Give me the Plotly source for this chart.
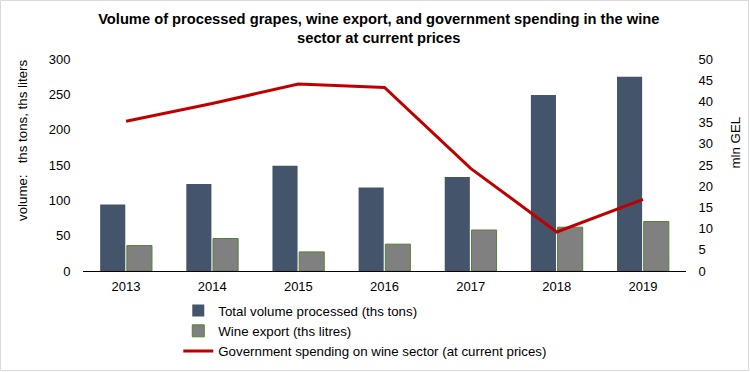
import plotly.graph_objects as go

years = ["2013", "2014", "2015", "2016", "2017", "2018", "2019"]
total_processed = [94, 123, 149, 118, 133, 249, 275]
wine_export = [36, 46, 27, 38, 58, 62, 70]
gov_spending = [35.3, 39.5, 44.1, 43.3, 24.2, 9.2, 16.9]

title_text = ("Volume of processed grapes, wine export, and government spending in the wine"
              "<br>sector at current prices")
left_axis_title = "volume:   ths tons, ths liters"
right_axis_title = "mln GEL"

W, H = 750, 372
ml, mr, mt, mb = 83, 64, 59, 101

fig = go.Figure()
fig.add_trace(go.Bar(x=years, y=total_processed, name="Total volume processed (ths tons)",
                     marker=dict(color="#44546A", line=dict(width=0))))
fig.add_trace(go.Bar(x=years, y=wine_export, name="Wine export (ths litres)",
                     marker=dict(color="#808080", line=dict(color="#548235", width=1))))
fig.add_trace(go.Scatter(x=years, y=gov_spending, name="Government spending on wine sector (at current prices)",
                         yaxis="y2", mode="lines", line=dict(color="#C00000", width=3)))

pw = W - ml - mr
ph = H - mt - mb
fig.add_shape(type="rect", xref="paper", yref="paper",
              x0=-ml / pw + 0.5 / pw, x1=1 + (mr - 1.5) / pw,
              y0=-mb / ph + 1.5 / ph, y1=1 + (mt - 0.5) / ph,
              line=dict(color="#D9D9D9", width=1), layer="below")

fig.add_annotation(text=left_axis_title, xref="paper", yref="paper",
                   x=(22 - ml) / pw, y=1 - (141 - mt) / ph, textangle=-90,
                   showarrow=False, font=dict(size=13.3), xanchor="center", yanchor="middle")
fig.add_annotation(text=right_axis_title, xref="paper", yref="paper",
                   x=(735 - ml) / pw, y=1 - (142.5 - mt) / ph, textangle=-90,
                   showarrow=False, font=dict(size=13.3), xanchor="center", yanchor="middle")

hidden_tick = "rgba(0,0,0,0)"
fig.update_layout(
    width=W, height=H,
    margin=dict(l=ml, r=mr, t=mt, b=mb, autoexpand=False),
    paper_bgcolor="white", plot_bgcolor="white",
    font=dict(family="Liberation Sans, Arial, sans-serif", size=13, color="#000000"),
    title=dict(text="<b>" + title_text + "</b>", x=0.505, xanchor="center", y=0.936, yanchor="top",
               font=dict(size=14.7, color="#000000")),
    barmode="group", bargap=0.38, bargroupgap=0.06,
    showlegend=True,
    legend=dict(orientation="v", x=0.158, xanchor="left", y=-0.115, yanchor="top",
                font=dict(size=13.3), tracegroupgap=0, itemwidth=30, bgcolor="rgba(0,0,0,0)"),
    xaxis=dict(showgrid=False, showline=True, linecolor="#000000", linewidth=1,
               ticks="outside", ticklen=3, tickcolor=hidden_tick, tickfont=dict(size=13)),
    yaxis=dict(range=[0, 300], dtick=50, showgrid=False, zeroline=False, showline=False,
               ticks="outside", ticklen=9, tickcolor=hidden_tick, tickfont=dict(size=13)),
    yaxis2=dict(range=[0, 50], dtick=5, overlaying="y", side="right", showgrid=False,
                zeroline=False, showline=False, ticks="outside", ticklen=9,
                tickcolor=hidden_tick, tickfont=dict(size=13)),
)

fig.write_html("out.html", config={"displayModeBar": False},
               post_script="document.body.style.margin='0';")
